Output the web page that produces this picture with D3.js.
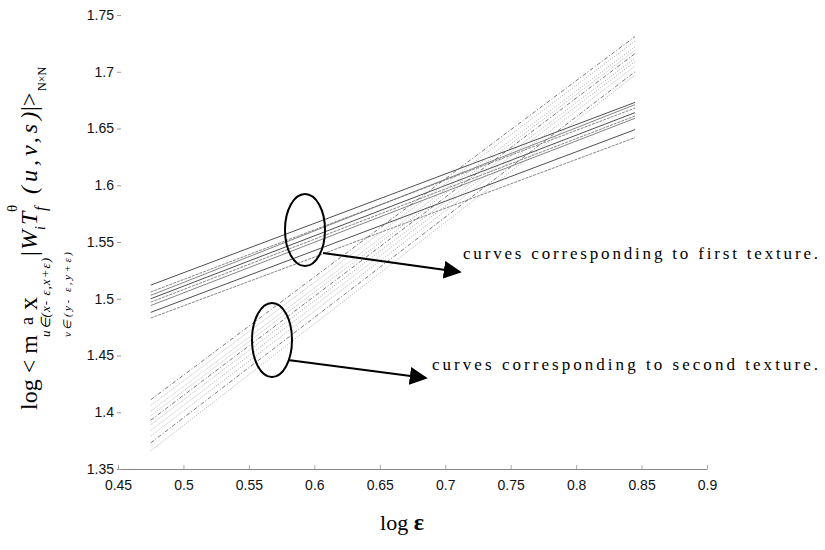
<!DOCTYPE html>
<html>
<head>
<meta charset="utf-8">
<script src="https://cdn.jsdelivr.net/npm/d3@7"></script>
<style>
body{margin:0;background:#fff;}
.tick text{font-family:"Liberation Sans",Arial,sans-serif;}
</style>
</head>
<body>
<div class="content"></div>
<script>
const SVG_W = 825;
const SVG_H = 550;

// x position of the two ends of every fitted line (log epsilon)
const logEps = [0.475, 0.845];
// first texture: value at left end, value at right end
const firstTexture = [[1.512,1.673],[1.506,1.668],[1.503,1.671],[1.500,1.664],[1.497,1.661],[1.494,1.659],[1.488,1.649],[1.483,1.642]];
// second texture
const secondTexture = [[1.411,1.731],[1.406,1.727],[1.401,1.722],[1.397,1.719],[1.393,1.716],[1.389,1.712],[1.384,1.709],[1.379,1.705],[1.373,1.700],[1.366,1.697]];
const xTicks = [0.45,0.5,0.55,0.6,0.65,0.7,0.75,0.8,0.85,0.9];
const yTicks = [1.35,1.4,1.45,1.5,1.55,1.6,1.65,1.7,1.75];

const svg = d3.select(".content").append("svg").attr("width",SVG_W).attr("height",SVG_H);

const xscale = d3.scaleLinear().domain([0.45,0.9]).range([118,707]);
const yscale = d3.scaleLinear().domain([1.35,1.75]).range([469,15]);

//x-axis
const xaxis = d3.axisBottom(xscale).tickValues(xTicks).tickSize(0).tickPadding(11).tickFormat(d=>d3.format("")(d));
const gx = svg.append("g").attr("transform","translate(0,469)").call(xaxis);
gx.select(".domain").attr("stroke","#888");
gx.selectAll(".tick text").attr("font-size",14).attr("fill","#111");
gx.selectAll(".tick").append("line").attr("y2",-4).attr("stroke","#aaa");

//y-axis (only little dashes beside labels)
const yaxis = d3.axisLeft(yscale).tickValues(yTicks).tickSize(0).tickPadding(8).tickFormat(d=>d3.format("")(d));
const gy = svg.append("g").attr("transform","translate(122,0)").call(yaxis);
gy.select(".domain").remove();
gy.selectAll(".tick text").attr("font-size",14).attr("fill","#111");
gy.selectAll(".tick").append("line").attr("x1",-5).attr("x2",-1).attr("stroke","#999");

const line = d3.line().x((d,i)=>xscale(logEps[i])).y(d=>yscale(d));

//first texture lines
svg.append("g").selectAll("path").data(firstTexture).join("path")
    .attr("d",d=>line(d))
    .attr("fill","none")
    .attr("stroke",(d,i)=>i%3==0?"#222":"#666")
    .attr("stroke-width",0.8)
    .attr("stroke-dasharray",(d,i)=>i%3==1?"3,1":null);

//second texture lines
svg.append("g").selectAll("path").data(secondTexture).join("path")
    .attr("d",d=>line(d))
    .attr("fill","none")
    .attr("stroke",(d,i)=>i%4==0?"#555":"#999")
    .attr("stroke-width",0.8)
    .attr("stroke-dasharray",(d,i)=>i%4==0?"4,2,1,2":"1,1.5");

//annotations
svg.append("defs").append("marker").attr("id","arrow").attr("viewBox","0 0 10 10")
    .attr("refX",9).attr("refY",5).attr("markerWidth",18).attr("markerHeight",18)
    .attr("markerUnits","userSpaceOnUse").attr("orient","auto")
    .append("path").attr("d","M0,0 L10,5 L0,10 Z").attr("fill","#000");

const ann = svg.append("g");
ann.append("ellipse").attr("cx",305).attr("cy",230).attr("rx",20).attr("ry",36)
    .attr("fill","none").attr("stroke","#000").attr("stroke-width",2);
ann.append("line").attr("x1",323).attr("y1",253).attr("x2",460).attr("y2",272)
    .attr("stroke","#000").attr("stroke-width",2.2).attr("marker-end","url(#arrow)");
ann.append("ellipse").attr("cx",272).attr("cy",340).attr("rx",20).attr("ry",37)
    .attr("fill","none").attr("stroke","#000").attr("stroke-width",2);
ann.append("line").attr("x1",288).attr("y1",360).attr("x2",426).attr("y2",378)
    .attr("stroke","#000").attr("stroke-width",2.2).attr("marker-end","url(#arrow)");

ann.append("text").attr("x",463).attr("y",259)
    .attr("font-family","Liberation Serif,serif").attr("font-size",17)
    .attr("textLength",355).attr("lengthAdjust","spacing")
    .text("curves corresponding to first texture.");
ann.append("text").attr("x",432).attr("y",370)
    .attr("font-family","Liberation Serif,serif").attr("font-size",17)
    .attr("textLength",386).attr("lengthAdjust","spacing")
    .text("curves corresponding to second texture.");

//x label
const xl = svg.append("text").attr("x",402).attr("y",530).attr("text-anchor","middle")
    .attr("font-family","Liberation Serif,serif").attr("font-size",22);
xl.append("tspan").text("log ");
xl.append("tspan").attr("font-weight","bold").attr("font-size",24).text("ε");

//y label, rotated; x' = -y, y' = x
const yl = svg.append("g").attr("transform","rotate(-90)")
    .attr("font-family","Liberation Serif,serif");
const part = (txt,y,x,size,italic)=>yl.append("text").attr("x",-y).attr("y",x)
    .attr("font-size",size).attr("font-style",italic?"italic":null).text(txt);
part("log < m",410,37,24);
part("a",325,33,18);
part("x",310,37,26);
part("u∈(x- ε,x+ε)",337,50,13,true).attr("textLength",79).attr("lengthAdjust","spacing");
part("v∈(y- ε,y+ε)",337,71,11,true).attr("textLength",85).attr("lengthAdjust","spacing");
part("|",256,37,24);
part("W",250,37,24,true);
part("i",230,45,14,true);
part("T",225,37,24,true);
part("θ",212,17,15);
part("f",211,46,16,true);
part("(u,v,s)",194,37,24,true).attr("letter-spacing",4);
part("|>",111,37,24);
part("N×N",91,46,12);
</script>
</body>
</html>
